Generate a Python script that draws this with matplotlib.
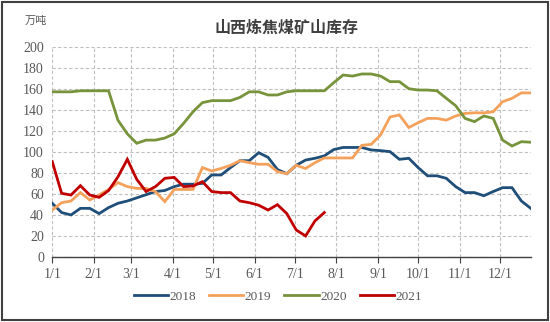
import matplotlib
matplotlib.use("Agg")
import matplotlib.pyplot as plt
import numpy as np
from matplotlib.patches import Rectangle

# weekly inventory, 万吨
y2018 = [50.8, 42, 39.7, 46, 46, 41, 46.7, 50.8, 53, 56, 59, 62, 63, 66.7, 69, 69, 69.8,
         77.8, 77.8, 84.8, 91.4, 91.4, 99, 94.6, 83, 79, 87, 92, 93.7, 96, 102, 104, 104,
         104, 101.6, 101, 100, 92.7, 93.7, 84.8, 77, 77, 74.6, 66.7, 61, 61, 58, 62, 65.7,
         65.7, 53, 46]
y2019 = [44.4, 51.4, 53, 61, 54, 58.7, 64, 70.5, 66.7, 65, 65, 62, 52.4, 64, 64, 64, 84.8,
         81.6, 84, 87, 91.4, 89.5, 88, 88, 81, 79, 87, 84, 89.5, 94, 94, 94, 94, 106, 107,
         116, 133, 135, 123, 127.6, 131.7, 131.7, 130, 134, 136.5, 137, 137, 138, 147.6,
         150.8, 156, 156]
y2020 = [157, 157, 157, 158, 158, 158, 158, 130, 117, 108, 111, 111, 113, 117, 127, 138,
         146.7, 148.6, 148.6, 148.6, 151.7, 157, 157, 154, 154, 157, 158, 158, 158, 158,
         165.7, 173, 172, 174, 174, 172, 166.7, 166.7, 160, 158.7, 158.7, 158, 150.8,
         143.8, 131.7, 128.6, 134, 131.7, 111, 105.4, 109.5, 109]
y2021 = [90.5, 60.3, 58.7, 67.6, 58.7, 56.5, 62.9, 76, 92.7, 73.7, 62, 66.7, 74.6, 75.5,
         66.7, 67.3, 71.4, 62, 61, 61, 53, 51.4, 49, 44.4, 49.5, 41, 25.4, 19.7, 34, 42]

series = {"2018": y2018, "2019": y2019, "2020": y2020, "2021": y2021}
colors = {"2018": "#1F4E79", "2019": "#F4A15C", "2020": "#77933C", "2021": "#C00000"}

month_days = [0, 31, 59, 90, 120, 151, 181, 212, 243, 273, 304, 334]
month_labels = ["%d/1" % m for m in range(1, 13)]

plt.rcParams['font.family'] = ['Liberation Serif', 'Noto Sans CJK SC']

fig = plt.figure(figsize=(5.5, 3.22), dpi=100)
ax = fig.add_axes([0.095, 0.203, 0.870, 0.652])

for name, vals in series.items():
    days = np.arange(len(vals)) * 7
    ax.plot(days, vals, color=colors[name], lw=2.0, label=name, solid_joinstyle='miter')

ax.set_xlim(0, 357)
ax.set_ylim(0, 200)
ax.set_yticks(range(0, 201, 20))
ax.set_xticks(month_days)
ax.set_xticklabels(month_labels)
ax.grid(True, color="#BFBFBF", ls=(0, (3, 2)), lw=0.8)
ax.set_axisbelow(True)
for s in ["top", "right", "left"]:
    ax.spines[s].set_visible(False)
ax.spines["bottom"].set_color("#404040")
ax.spines["bottom"].set_linewidth(1.0)
ax.tick_params(axis="y", length=0, labelsize=10, labelcolor="#595959", pad=6)
ax.tick_params(axis="x", length=4, direction="out", color="#404040",
               labelsize=10, labelcolor="#595959", pad=4)

fig.text(0.52, 0.915, "山西炼焦煤矿山库存", ha="center", va="center", fontsize=11.5,
         fontweight="bold", color="#404040", family=["Noto Sans CJK SC"])
fig.text(0.045, 0.935, "万吨", ha="left", va="center", fontsize=8,
         color="#595959", family=["Noto Sans CJK SC"])

leg = fig.legend(loc="center", bbox_to_anchor=(0.505, 0.078), ncol=4, frameon=False,
                 fontsize=9.5, handlelength=2.6, handletextpad=0.1, columnspacing=1.0)
for t in leg.get_texts():
    t.set_color("#595959")

fig.patches.append(Rectangle((0.003, 0.005), 0.994, 0.99, transform=fig.transFigure,
                             fill=False, edgecolor="#404040", lw=1.5))

fig.savefig("out.png", dpi=100)
